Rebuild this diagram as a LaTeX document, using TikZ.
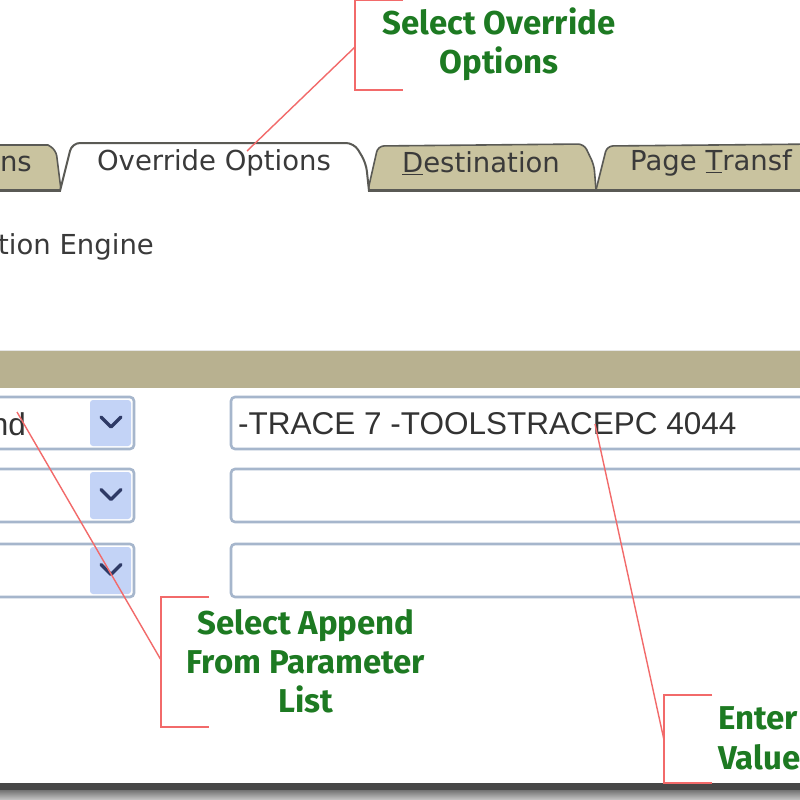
\documentclass[tikz,border=0pt]{standalone}
\usepackage{fontspec}
\newfontfamily\uifont{DejaVu Sans}
\newfontfamily\fieldfont{Liberation Sans}
\newfontfamily\notefont{Fira Sans}
\definecolor{khaki}{HTML}{C9C39F}
\definecolor{band}{HTML}{B8B190}
\definecolor{tabline}{HTML}{5A5A55}
\definecolor{uitext}{HTML}{3A3A3A}
\definecolor{fieldborder}{HTML}{A6B6CC}
\definecolor{btnblue}{HTML}{C3D3F6}
\definecolor{chev}{HTML}{2E3A66}
\definecolor{notegreen}{HTML}{1D7A22}
\definecolor{leader}{HTML}{F26A6A}
\tikzset{
  uitxt/.style={text=uitext, font=\uifont\fontsize{27.5}{32}\selectfont, inner sep=0pt},
  fieldtxt/.style={text=black!80, font=\fieldfont\fontsize{31.5}{36}\selectfont, inner sep=0pt},
  notetxt/.style={text=notegreen, font=\notefont\bfseries\fontsize{33}{39}\selectfont, align=center, inner sep=0pt},
  inactivetab/.style={fill=khaki, draw=tabline, line width=1.6pt},
  activetab/.style={fill=white, draw=tabline, line width=2pt},
  fieldbox/.style={draw=fieldborder, line width=2.6pt, fill=white, rounded corners=4pt},
  btn/.style={fill=btnblue, rounded corners=3pt},
  chevron/.style={draw=chev, line width=3.4pt, line cap=round, line join=round},
  leaderline/.style={draw=leader, line width=1.4pt},
  bracket/.style={draw=leader, line width=2.2pt}
}
\begin{document}
\begin{tikzpicture}[x=1pt,y=-1pt]
\useasboundingbox (0,0) rectangle (800,800);
\fill[white] (0,0) rectangle (800,800);
\begin{scope}
\clip (0,0) rectangle (800,800);

% ---- tabs ----
\path[inactivetab] (-10,190) -- (-10,145) -- (48,145) [rounded corners=6pt] -- (56,150) [sharp corners] -- (61,190) -- cycle;
\path[inactivetab] (368,190) [rounded corners=6pt] -- (378,146) -- (584,144) -- (594,165) [sharp corners] -- (596,190) -- cycle;
\path[inactivetab] (596,190) [rounded corners=6pt] -- (607,146) -- (820,144) [sharp corners] -- (820,190) -- cycle;
\path[activetab] (60,191) [rounded corners=8pt] -- (72,143) -- (354,143) -- (366,163) [sharp corners] -- (369,191);
\draw[tabline, line width=2pt] (-10,191) -- (61,191);
\draw[tabline, line width=2pt] (368,191) -- (820,191);

\node[uitxt, anchor=east] (tabns) at (32,164) {ns};
\node[uitxt] (taboverride) at (214,163) {Override Options};
\node[uitxt] (tabdest) at (481,163) {\underline{D}estination};
\node[uitxt, anchor=west] (tabpage) at (630,163) {Page \underline{T}ransf};

\node[uitxt, anchor=west] (engine) at (-2,247) {tion Engine};

% ---- khaki band ----
\fill[band] (-10,351) rectangle (820,388);
\draw[black!10, line width=1pt] (-10,350) -- (820,350);

% ---- dropdowns ----
\foreach \r/\t/\b in {1/397/449, 2/469/522, 3/544/597}{
  \path[fieldbox] (-20,\t) rectangle (134,\b);
  \path[btn] (90,\t+3) rectangle (131,\b-3);
  \draw[chevron] (101,{(\t+\b)/2-6}) -- (111,{(\t+\b)/2+4}) -- (121,{(\t+\b)/2-6});
  \path[fieldbox] (231,\t) rectangle (830,\b);
}
\node[fieldtxt, anchor=east] (nd) at (26,424) {nd};
\node[fieldtxt, anchor=west] (tracetxt) at (238,424) {-TRACE 7 -TOOLSTRACEPC 4044};

% ---- bottom bar ----
\fill[black!72] (-10,783) rectangle (820,790);
\shade[top color=black!55, bottom color=black!22] (-10,790) rectangle (820,800);

% ---- annotations ----
% top
\coordinate (b1t) at (355,0);
\coordinate (b1b) at (355,90);
\coordinate (b1m) at (355,47);
\draw[bracket] (403,0) -- (b1t) -- (b1b) -- (403,90);
\node[notetxt] (note1) at (499,44) {Select Override\\Options};
\coordinate (p1) at (247,151);
\draw[leaderline] (b1m) -- (p1);

% middle
\coordinate (b2t) at (161,597);
\coordinate (b2b) at (161,727);
\coordinate (b2m) at (161,660);
\draw[bracket] (209,597) -- (b2t) -- (b2b) -- (209,727);
\node[notetxt] (note2) at (306,661) {Select Append\\From Parameter\\List};
\coordinate (p2) at (17,412);
\draw[leaderline] (p2) -- (b2m);

% right
\coordinate (b3t) at (664,695);
\coordinate (b3b) at (664,783);
\coordinate (b3m) at (664,740);
\draw[bracket] (712,695) -- (b3t) -- (b3b) -- (712,783);
\node[notetxt, anchor=west] (note3a) at (718,718) {Enter};
\node[notetxt, anchor=west] (note3b) at (718,757) {Value};
\coordinate (p3) at (595,424);
\draw[leaderline] (p3) -- (b3m);
\end{scope}
\end{tikzpicture}
\end{document}
